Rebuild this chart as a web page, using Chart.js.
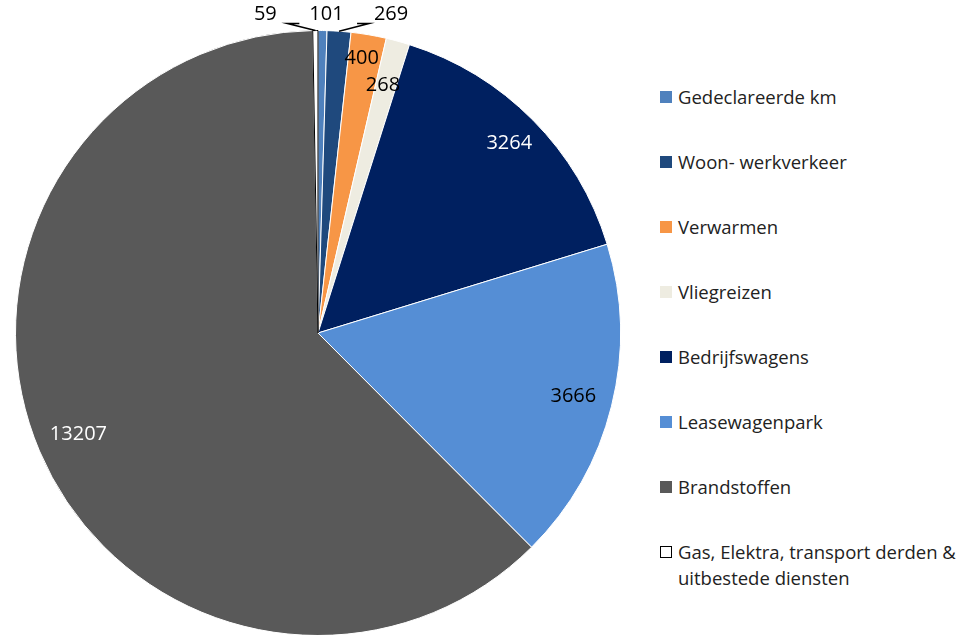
<!DOCTYPE html>
<html>
<head>
<meta charset="utf-8">
<script src="https://cdn.jsdelivr.net/npm/chart.js@4"></script>
<style>
body{margin:0;background:#fff;overflow:hidden;width:970px;height:635px;position:relative;font-family:"Open Sans",sans-serif;}
#wrap{position:absolute;left:0;top:0;width:640px;height:670px;}
#legenda{position:absolute;left:660px;top:84px;font-size:18.5px;color:#222;}
.item{position:relative;height:65px;padding-left:18px;line-height:26px;}
.item span{position:absolute;left:0;top:7px;width:12px;height:12px;box-sizing:border-box;}
</style>
</head>
<body>
<div id="wrap"><canvas id="grafico"></canvas></div>
<div id="legenda"></div>
<script>
const categorias = ["Gedeclareerde km","Woon- werkverkeer","Verwarmen","Vliegreizen","Bedrijfswagens","Leasewagenpark","Brandstoffen","Gas, Elektra, transport derden & uitbestede diensten"];
const valores = [101,269,400,268,3264,3666,13207,59];
const cores = ["#4F81BD","#1F497D","#F79646","#EEECE1","#002060","#558ED5","#595959","#FFFFFF"];
const bordas = ["#fff","#fff","#fff","#fff","#fff","#fff","#fff","#000"];

// label placement per slice: radius factor (inside) or outside
const labelPos = [
{ out:true, dx:4, dy:-16 },
{ out:true, dx:52, dy:-16, leader:true },
{ r:0.92, dx:-3 },
{ r:0.85, dx:-3 },
{ r:0.89 },
{ r:0.87 },
{ r:0.86 },
{ out:true, dx:-50, dy:-16, leader:true }
];
const corTexto = ["#000","#000","#000","#000","#fff","#000","#fff","#000"];

const rotulos = {
id:"rotulos",
afterDatasetsDraw(chart){
const ctx = chart.ctx;
const meta = chart.getDatasetMeta(0);
ctx.save();
ctx.font = "20px 'Open Sans'";
ctx.textAlign = "center";
ctx.textBaseline = "middle";
meta.data.forEach((arc,i)=>{
const p = labelPos[i];
const mid = (arc.startAngle + arc.endAngle)/2;
const R = arc.outerRadius;
const ex = arc.x + Math.cos(mid)*R;
const ey = arc.y + Math.sin(mid)*R;
let x, y;
if(p.out){
x = ex + p.dx;
y = arc.y - R + p.dy;
if(p.leader){
ctx.strokeStyle = "#000";
ctx.lineWidth = 1.5;
ctx.beginPath();
const dir = p.dx > 0 ? 1 : -1;
const lx = x - dir*22;
ctx.moveTo(ex, ey);
ctx.lineTo(lx, y+9);
ctx.lineTo(lx - dir*12, y+9);
ctx.stroke();
}
}else{
x = arc.x + Math.cos(mid)*R*p.r + (p.dx||0);
y = arc.y + Math.sin(mid)*R*p.r;
}
ctx.fillStyle = corTexto[i];
ctx.fillText(valores[i], x, y);
});
ctx.restore();
}
};

new Chart(document.getElementById("grafico"),{
type:"pie",
data:{
labels:categorias,
datasets:[{
data:valores,
backgroundColor:cores,
borderColor:bordas,
borderWidth:1
}]
},
options:{
responsive:true,
maintainAspectRatio:false,
animation:false,
layout:{padding:{top:30,left:15,right:19,bottom:34}},
plugins:{legend:{display:false},tooltip:{enabled:false}}
},
plugins:[rotulos]
});

const legenda = document.getElementById("legenda");
categorias.forEach((c,i)=>{
legenda.innerHTML += `<div class="item"><span style="background:${cores[i]};border:1px solid ${i===7?"#000":cores[i]}"></span>${c.replace("derden & ","derden &amp;<br>")}</div>`;
});
</script>
</body>
</html>
